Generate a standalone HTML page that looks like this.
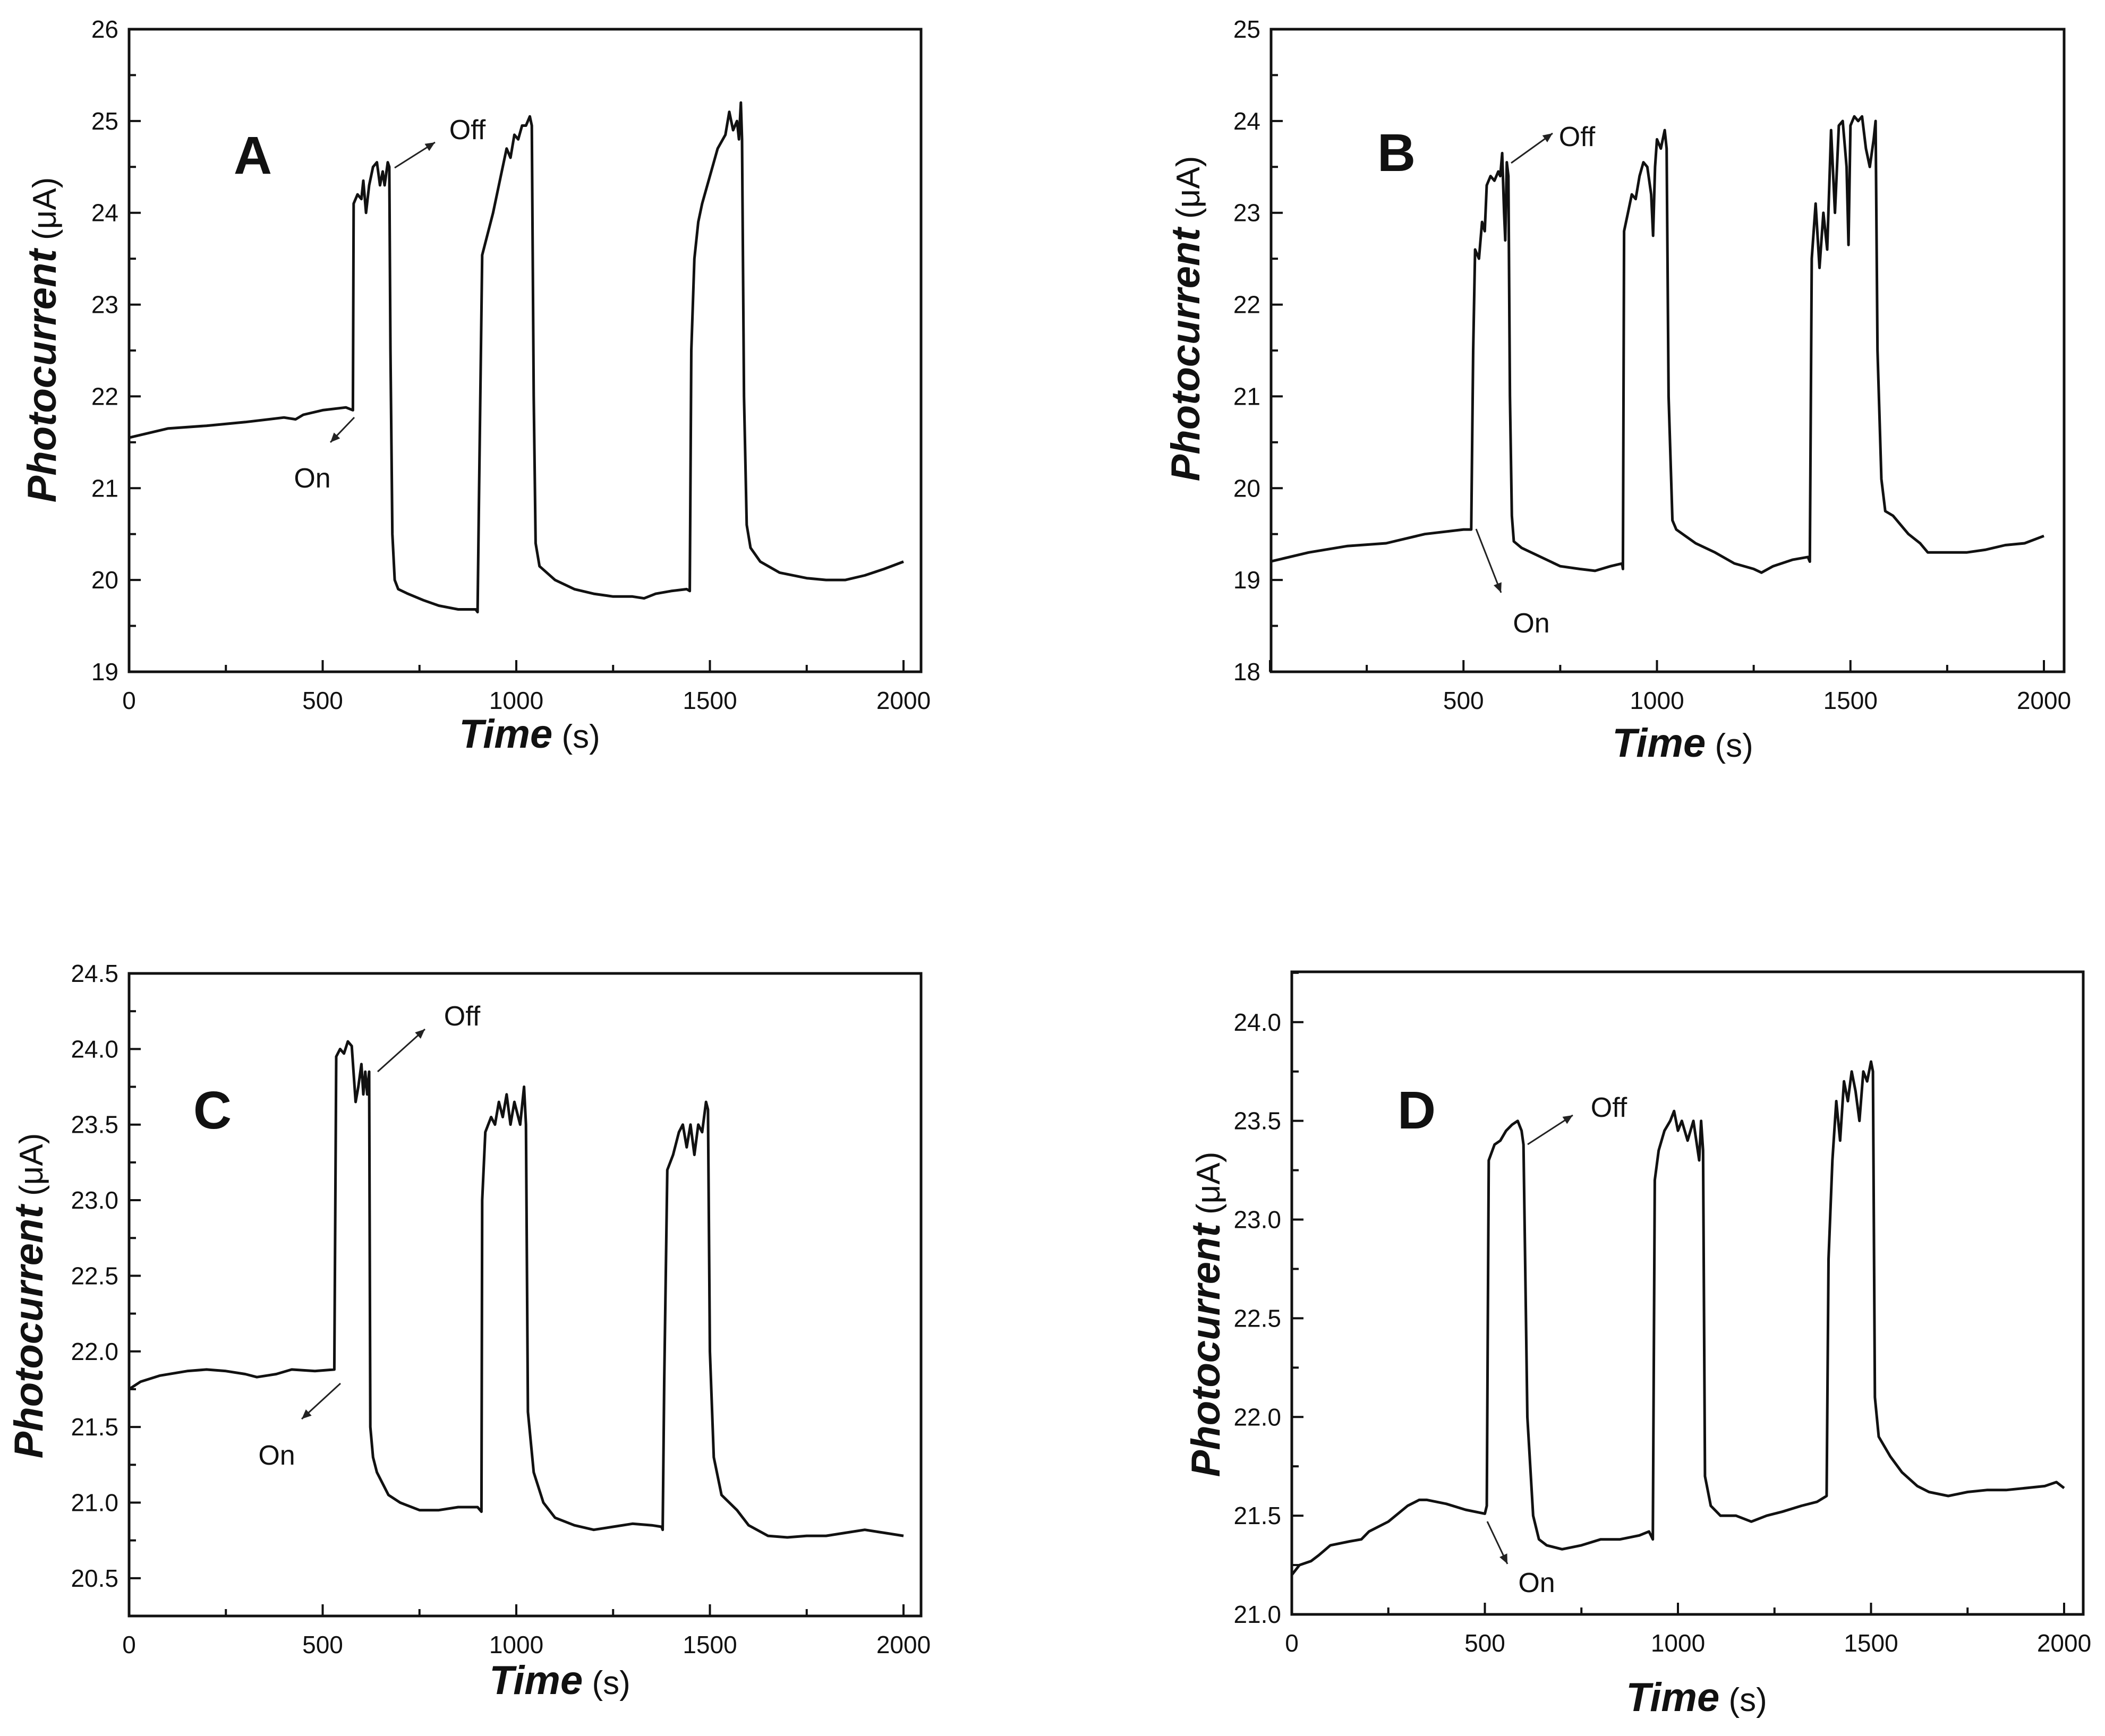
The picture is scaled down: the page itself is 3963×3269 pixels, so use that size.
<!DOCTYPE html>
<html><head><meta charset="utf-8"><style>
html,body{margin:0;padding:0;background:#fff}
svg{display:block}
text{font-family:"Liberation Sans",Arial,sans-serif;fill:#111}
</style></head><body>
<svg id="fig" width="3963" height="3269" viewBox="0 0 3963 3269" xmlns="http://www.w3.org/2000/svg"></svg>
<script>
// Panel A data
const tA=[0,50,100,200,300,400,430,450,500,560,578,580,590,600,605,612,620,630,640,648,655,660,668,672,675,680,686,695,720,760,800,850,895,900,904,912,940,960,975,985,995,1005,1015,1025,1035,1040,1045,1050,1060,1100,1150,1200,1250,1300,1330,1360,1400,1440,1448,1452,1460,1470,1480,1500,1520,1540,1550,1560,1570,1575,1580,1583,1588,1595,1605,1630,1680,1750,1800,1850,1900,1950,2000];
const vA=[21.55,21.6,21.65,21.68,21.72,21.77,21.75,21.8,21.85,21.88,21.85,24.1,24.2,24.15,24.35,24.0,24.3,24.5,24.55,24.3,24.45,24.3,24.55,24.5,22.5,20.5,20.0,19.9,19.85,19.78,19.72,19.68,19.68,19.65,21.0,23.54,24.0,24.4,24.7,24.6,24.85,24.8,24.95,24.95,25.05,24.95,22.0,20.4,20.15,20.0,19.9,19.85,19.82,19.82,19.8,19.85,19.88,19.9,19.88,22.5,23.5,23.9,24.1,24.4,24.7,24.85,25.1,24.9,25.0,24.8,25.2,24.8,22.0,20.6,20.35,20.2,20.08,20.02,20.0,20.0,20.05,20.12,20.2];
// Panel B data
const tB=[0,100,200,300,400,500,520,525,530,540,548,555,560,570,580,590,595,600,605,608,612,616,620,625,630,650,700,750,800,840,880,910,912,915,925,935,945,955,965,975,985,990,995,1000,1010,1020,1025,1030,1040,1050,1100,1150,1200,1250,1270,1300,1350,1390,1395,1400,1410,1420,1430,1440,1450,1460,1470,1480,1490,1495,1500,1510,1520,1530,1540,1550,1560,1565,1570,1580,1590,1610,1640,1650,1680,1700,1750,1800,1850,1900,1950,2000];
const vB=[19.2,19.3,19.37,19.4,19.5,19.55,19.55,21.5,22.6,22.5,22.9,22.8,23.3,23.4,23.35,23.45,23.4,23.65,23.0,22.7,23.55,23.4,21.0,19.7,19.42,19.35,19.25,19.15,19.12,19.1,19.15,19.18,19.12,22.8,23.0,23.2,23.15,23.4,23.55,23.5,23.2,22.75,23.5,23.8,23.7,23.9,23.7,21.0,19.65,19.55,19.4,19.3,19.18,19.12,19.08,19.15,19.22,19.25,19.2,22.5,23.1,22.4,23.0,22.6,23.9,23.0,23.95,24.0,23.5,22.65,23.95,24.05,24.0,24.05,23.7,23.5,23.8,24.0,21.5,20.1,19.75,19.7,19.55,19.5,19.4,19.3,19.3,19.3,19.33,19.38,19.4,19.48];
// Panel C data
const tC=[0,30,80,150,200,250,300,330,380,420,480,530,535,545,555,565,575,585,592,600,605,610,615,620,623,630,640,670,700,750,800,850,900,910,912,920,935,945,955,965,975,985,995,1010,1020,1025,1030,1045,1070,1100,1150,1200,1250,1300,1350,1375,1378,1382,1390,1405,1420,1430,1440,1450,1460,1470,1480,1490,1495,1500,1510,1530,1570,1600,1650,1700,1750,1800,1850,1900,1950,2000];
const vC=[21.75,21.8,21.84,21.87,21.88,21.87,21.85,21.83,21.85,21.88,21.87,21.88,23.95,24.0,23.97,24.05,24.02,23.65,23.75,23.9,23.7,23.85,23.7,23.85,21.5,21.3,21.2,21.05,21.0,20.95,20.95,20.97,20.97,20.94,23.0,23.45,23.55,23.5,23.65,23.55,23.7,23.5,23.65,23.5,23.75,23.5,21.6,21.2,21.0,20.9,20.85,20.82,20.84,20.86,20.85,20.84,20.82,21.8,23.2,23.3,23.45,23.5,23.35,23.5,23.3,23.5,23.45,23.65,23.6,22.0,21.3,21.05,20.95,20.85,20.78,20.77,20.78,20.78,20.8,20.82,20.8,20.78];
// Panel D data
const tD=[0,20,50,70,100,150,180,200,250,300,330,350,400,450,500,505,510,525,540,555,570,585,595,600,610,625,640,660,700,750,800,850,900,925,935,940,950,965,980,990,1000,1010,1025,1040,1055,1060,1065,1070,1085,1110,1150,1190,1230,1270,1320,1360,1385,1390,1400,1410,1420,1430,1440,1450,1460,1470,1480,1490,1500,1505,1510,1520,1550,1580,1620,1650,1700,1750,1800,1850,1900,1950,1980,2000];
const vD=[21.2,21.25,21.27,21.3,21.35,21.37,21.38,21.42,21.47,21.55,21.58,21.58,21.56,21.53,21.51,21.55,23.3,23.38,23.4,23.45,23.48,23.5,23.45,23.38,22.0,21.5,21.38,21.35,21.33,21.35,21.38,21.38,21.4,21.42,21.38,23.2,23.35,23.45,23.5,23.55,23.45,23.5,23.4,23.5,23.3,23.5,23.35,21.7,21.55,21.5,21.5,21.47,21.5,21.52,21.55,21.57,21.6,22.8,23.3,23.6,23.4,23.7,23.6,23.75,23.65,23.5,23.75,23.7,23.8,23.75,22.1,21.9,21.8,21.72,21.65,21.62,21.6,21.62,21.63,21.63,21.64,21.65,21.67,21.64];
// Tick values
const xTicks=[0,500,1000,1500,2000];
const xTicksB=[500,1000,1500,2000];
const yTicksA=[19,20,21,22,23,24,25,26];
const yTicksB=[18,19,20,21,22,23,24,25];
const yTicksC=[20.5,21.0,21.5,22.0,22.5,23.0,23.5,24.0,24.5];
const yTicksD=[21.0,21.5,22.0,22.5,23.0,23.5,24.0];

const NS="http://www.w3.org/2000/svg";
const svg=document.getElementById('fig');
function mk(tag,attrs,parent){const e=document.createElementNS(NS,tag);for(const k in attrs)e.setAttribute(k,attrs[k]);(parent||svg).appendChild(e);return e;}

function panel(p){
  const g=mk('g',{});
  
  
  const sx=t=>p.x0+(t)*p.pps;
  const sy=v=>p.B-(v-p.ymin)/(p.ymax-p.ymin)*(p.B-p.T);
  // frame
  const fr=mk('rect',{x:p.L,y:p.T,width:p.R-p.L,height:p.B-p.T,fill:'none',stroke:'#111','stroke-width':5},g);
  
  
  // x ticks
  for(let t=0;t<=2000;t+=250){
    const X=sx(t);const major=t%500===0;
    const tk=mk('line',{x1:X,x2:X,y1:p.B,y2:p.B-(major?22:13),stroke:'#111','stroke-width':4},g);
    
    
  }
  p.xt.forEach(t=>{
    const tx=mk('text',{x:sx(t),y:p.B+70,'font-size':46,'text-anchor':'middle'},g);
    tx.textContent=t;
    
    
  });
  // y ticks
  const yt=p.yt;const step=yt[1]-yt[0];
  for(let v=yt[0]-step;v<=p.ymax+1e-9;v+=step/2){
    if(v<p.ymin-1e-9)continue;
    const Y=sy(v);const major=yt.some(u=>Math.abs(u-v)<1e-6);
    const tk=mk('line',{x1:p.L,x2:p.L+(major?22:13),y1:Y,y2:Y,stroke:'#111','stroke-width':4},g);
    
    
  }
  yt.forEach(v=>{
    const tx=mk('text',{x:p.L-20,y:sy(v)+16,'font-size':46,'text-anchor':'end'},g);
    tx.textContent=p.dec?v.toFixed(1):v;
    
    
  });
  // line
  const d=p.t.map((t,i)=>(i?'L':'M')+sx(t).toFixed(1)+' '+sy(p.v[i]).toFixed(1)).join(' ');
  const path=mk('path',{d:d,fill:'none',stroke:'#111','stroke-width':5,'stroke-linejoin':'round'},g);
  
  
  // titles
  const yt1=mk('text',{transform:`translate(${p.ytx},${p.yty}) rotate(-90)`,'font-size':76,'text-anchor':'middle'},g);
  yt1.innerHTML='<tspan font-weight="bold" font-style="italic">Photocurrent</tspan><tspan font-size="62"> (μA)</tspan>';
  
  
  const xt1=mk('text',{x:p.xtx,y:p.xty,'font-size':76,'text-anchor':'middle'},g);
  xt1.innerHTML='<tspan font-weight="bold" font-style="italic">Time</tspan><tspan font-size="62"> (s)</tspan>';
  
  
  const lb=mk('text',{x:p.lx,y:p.ly+35,'font-size':100,'font-weight':'bold','text-anchor':'middle'},g);
  lb.textContent=p.id;
  
  
  // annotations
  const off=mk('text',{x:p.off[0],y:p.off[1]+18,'font-size':52,'text-anchor':'middle'},g);
  off.textContent='Off';
  
  
  const on=mk('text',{x:p.on[0],y:p.on[1]+18,'font-size':52,'text-anchor':'middle'},g);
  on.textContent='On';
  
  
  [p.offA,p.onA].forEach((a,i)=>{
    const ln=mk('line',{x1:a[0],y1:a[1],x2:a[2],y2:a[3],stroke:'#222','stroke-width':3},g);
    
    
    const ang=Math.atan2(a[3]-a[1],a[2]-a[0]);const L=18,W=8;
    const bx=a[2]-L*Math.cos(ang),by=a[3]-L*Math.sin(ang);
    const hd=mk('polygon',{points:`${a[2]},${a[3]} ${bx-W*Math.sin(ang)},${by+W*Math.cos(ang)} ${bx+W*Math.sin(ang)},${by-W*Math.cos(ang)}`,fill:'#222'},g);
    
    
  });
}
panel({id:'A',L:243,R:1734,T:55,B:1265,x0:243,pps:0.729,ymin:19,ymax:26,t:tA,v:vA,xt:xTicks,yt:yTicksA,dec:false,
  ytx:105,yty:640,xtx:997,xty:1408,lx:476,ly:292,off:[880,244],offA:[743,316,819,268],on:[588,900],onA:[667,786,622,833]});
panel({id:'B',L:2393,R:3886,T:55,B:1265,x0:2391,pps:0.7285,ymin:18,ymax:25,t:tB,v:vB,xt:xTicksB,yt:yTicksB,dec:false,
  ytx:2258,yty:600,xtx:3168,xty:1425,lx:2629,ly:287,off:[2969,257],offA:[2845,307,2923,251],on:[2883,1173],onA:[2779,996,2826,1116]});
panel({id:'C',L:243,R:1734,T:1833,B:3043,x0:243,pps:0.729,ymin:20.25,ymax:24.5,t:tC,v:vC,xt:xTicks,yt:yTicksC,dec:true,
  ytx:80,yty:2440,xtx:1054,xty:3190,lx:400,ly:2090,off:[870,1913],offA:[711,2018,800,1938],on:[521,2740],onA:[641,2605,568,2672]});
panel({id:'D',L:2432,R:3922,T:1830,B:3040,x0:2432,pps:0.727,ymin:21,ymax:24.255,t:tD,v:vD,xt:xTicks,yt:yTicksD,dec:true,
  ytx:2296,yty:2475,xtx:3194,xty:3222,lx:2667,ly:2090,off:[3029,2085],offA:[2876,2155,2961,2100],on:[2893,2980],onA:[2800,2865,2838,2945]});
</script>
</body></html>
